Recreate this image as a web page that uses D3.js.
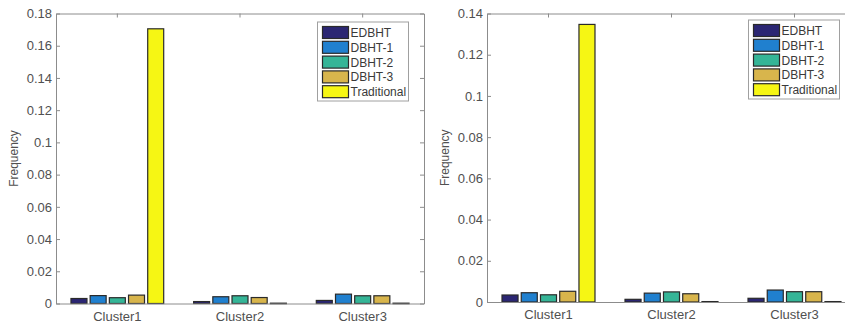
<!DOCTYPE html>
<html>
<head>
<meta charset="utf-8">
<script src="https://cdn.jsdelivr.net/npm/d3@7"></script>
<style>
  body { margin: 0; background: #fff; }
  svg { display: block; font-family: "Liberation Sans", Arial, sans-serif; }
  .tick text { fill: #505050; }
</style>
</head>
<body>
<svg id="chart" width="845" height="325"></svg>
<script>
const clusters = ['Cluster1', 'Cluster2', 'Cluster3'];
const seriesNames = ['EDBHT', 'DBHT-1', 'DBHT-2', 'DBHT-3', 'Traditional'];
const seriesColors = ['#2b2673', '#2080cf', '#35b597', '#d8b54c', '#f6f614'];

// left panel, one array per series (Cluster1..3)
const leftEDBHT = [0.0031, 0.0012, 0.0019];
const leftDBHT1 = [0.0049, 0.0042, 0.0058];
const leftDBHT2 = [0.0036, 0.0048, 0.0048];
const leftDBHT3 = [0.0052, 0.0037, 0.0048];
const leftTrad  = [0.1705, 0.0002, 0.0002];
const leftTicks = [0, 0.02, 0.04, 0.06, 0.08, 0.1, 0.12, 0.14, 0.16, 0.18];

// right panel
const rightEDBHT = [0.0034, 0.0013, 0.0018];
const rightDBHT1 = [0.0045, 0.0043, 0.0058];
const rightDBHT2 = [0.0035, 0.0049, 0.005];
const rightDBHT3 = [0.0052, 0.004, 0.005];
const rightTrad  = [0.1347, 0.0002, 0.0002];
const rightTicks = [0, 0.02, 0.04, 0.06, 0.08, 0.1, 0.12, 0.14];

const svg = d3.select('#chart');
const axisColor = '#8c8c8c';

function drawPanel(cfg){
  const {left, right, top, bottom, yMax, ticks, values, legend} = cfg;
  const g = svg.append('g');

  const x = d3.scaleBand().domain(clusters).range([left, right])
    .paddingInner(0.218).paddingOuter(0.109);
  const xs = d3.scaleBand().domain(seriesNames).range([0, x.bandwidth()])
    .paddingInner(0.167).paddingOuter(0.0835);
  const y = d3.scaleLinear().domain([0, yMax]).range([bottom, top]);

  // bars
  seriesNames.forEach((s, si)=>{
    g.append('g').selectAll('rect').data(values[si]).enter().append('rect')
      .attr('x', (d, i)=> x(clusters[i]) + xs(s))
      .attr('y', d=> y(d))
      .attr('width', xs.bandwidth())
      .attr('height', d=> Math.max(0.5, bottom - y(d)))
      .attr('fill', seriesColors[si])
      .attr('stroke', '#2a2a2a')
      .attr('stroke-width', 1.2);
  });

  // y axis (left, labelled)
  const yAxis = g.append('g').attr('transform', `translate(${left},0)`)
    .call(d3.axisLeft(y).tickValues(ticks).tickSize(-4).tickSizeOuter(0).tickPadding(4)
      .tickFormat(d3.format('~g')));
  yAxis.selectAll('text').style('font-size', '13px');

  // right side ticks, no labels
  g.append('g').attr('transform', `translate(${right},0)`)
    .call(d3.axisRight(y).tickValues(ticks).tickSize(-4).tickSizeOuter(0).tickFormat(''));

  // bottom axis
  const xAxis = g.append('g').attr('transform', `translate(0,${bottom})`)
    .call(d3.axisBottom(x).tickSize(0).tickPadding(8));
  xAxis.selectAll('text').style('font-size', '13px');

  // top edge with inward ticks
  g.append('g').attr('transform', `translate(0,${top})`)
    .call(d3.axisTop(x).tickSize(-4).tickSizeOuter(0).tickFormat(''));

  g.selectAll('.domain, .tick line').attr('stroke', axisColor);

  // y label
  g.append('text')
    .attr('transform', `translate(${left - 38},${(top + bottom) / 2}) rotate(-90)`)
    .attr('text-anchor', 'middle')
    .attr('fill', '#505050')
    .style('font-size', '12px')
    .text('Frequency');

  // legend
  const lg = g.append('g').attr('transform', `translate(${legend.x},${legend.y})`);
  lg.append('rect').attr('width', legend.w).attr('height', 79)
    .attr('fill', '#fff').attr('stroke', '#a0a0a0');
  const row = d3.scaleBand().domain(seriesNames).range([3, 77]);
  seriesNames.forEach((s, si)=>{
    lg.append('rect')
      .attr('x', 5).attr('y', row(s) + 1.5)
      .attr('width', 26).attr('height', 12)
      .attr('fill', seriesColors[si]).attr('stroke', '#2a2a2a').attr('stroke-width', 1.2);
    lg.append('text')
      .attr('x', 33).attr('y', row(s) + 12)
      .attr('fill', '#3a3a3a')
      .style('font-size', '12px')
      .text(s);
  });
}

drawPanel({
  left: 56, right: 424, top: 13.5, bottom: 303.5, yMax: 0.18, ticks: leftTicks,
  values: [leftEDBHT, leftDBHT1, leftDBHT2, leftDBHT3, leftTrad],
  legend: {x: 317.5, y: 22, w: 91}
});

drawPanel({
  left: 487, right: 856, top: 13.5, bottom: 302, yMax: 0.14, ticks: rightTicks,
  values: [rightEDBHT, rightDBHT1, rightDBHT2, rightDBHT3, rightTrad],
  legend: {x: 748.5, y: 20, w: 91}
});
</script>
</body>
</html>
